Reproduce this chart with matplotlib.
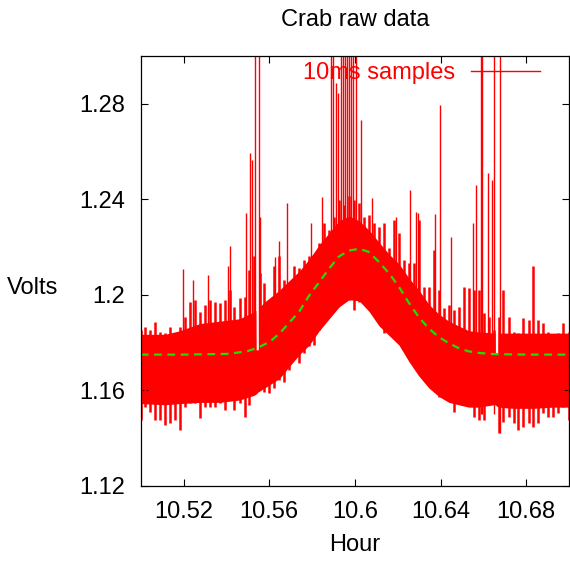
import numpy as np
from matplotlib import pyplot as plt
from matplotlib.lines import Line2D

# solid core of the raw 10 ms samples
core_hour = [10.5000, 10.5113, 10.5183, 10.5276, 10.5369, 10.5462, 10.5531,
             10.5538, 10.5539, 10.5550, 10.5551, 10.5578, 10.5648, 10.5694,
             10.5741, 10.5787, 10.5834, 10.5880, 10.5927, 10.5973, 10.6020,
             10.6067, 10.6113, 10.6160, 10.6206, 10.6253, 10.6299, 10.6346,
             10.6392, 10.6439, 10.6485, 10.6532, 10.6578, 10.6648, 10.6654,
             10.6655, 10.6669, 10.6670, 10.6741, 10.6834, 10.6927, 10.7000]
core_lo = [1.1545, 1.1540, 1.1545, 1.1550, 1.1550, 1.1560, 1.1580,
           1.1585, 1.1585, 1.1595, 1.1595, 1.1610, 1.1650, 1.1700,
           1.1750, 1.1790, 1.1850, 1.1900, 1.1950, 1.1980, 1.1975,
           1.1930, 1.1870, 1.1830, 1.1790, 1.1720, 1.1660, 1.1610,
           1.1575, 1.1550, 1.1540, 1.1530, 1.1530, 1.1540, 1.1540,
           1.1540, 1.1530, 1.1530, 1.1525, 1.1525, 1.1530, 1.1530]
core_hi = [1.1835, 1.1835, 1.1850, 1.1880, 1.1890, 1.1900, 1.1930,
           1.1935, 1.1770, 1.1770, 1.1945, 1.1970, 1.2020, 1.2060,
           1.2100, 1.2150, 1.2210, 1.2260, 1.2310, 1.2330, 1.2310,
           1.2270, 1.2220, 1.2170, 1.2130, 1.2070, 1.2020, 1.1960,
           1.1920, 1.1890, 1.1870, 1.1850, 1.1845, 1.1840, 1.1840,
           1.1757, 1.1757, 1.1840, 1.1840, 1.1840, 1.1840, 1.1840]

# range of the samples in each 5 px column (lowest, highest)
col_hour = [10.5000, 10.5020, 10.5043, 10.5066, 10.5090, 10.5113, 10.5136,
            10.5159, 10.5183, 10.5206, 10.5229, 10.5252, 10.5276, 10.5299,
            10.5322, 10.5345, 10.5369, 10.5392, 10.5415, 10.5438, 10.5462,
            10.5485, 10.5508, 10.5531, 10.5555, 10.5578, 10.5601, 10.5624,
            10.5648, 10.5671, 10.5694, 10.5717, 10.5741, 10.5764, 10.5787,
            10.5810, 10.5834, 10.5857, 10.5880, 10.5903, 10.5927, 10.5950,
            10.5973, 10.5997, 10.6020, 10.6043, 10.6067, 10.6090, 10.6113,
            10.6136, 10.6160, 10.6183, 10.6206, 10.6229, 10.6253, 10.6276,
            10.6299, 10.6322, 10.6346, 10.6369, 10.6392, 10.6415, 10.6439,
            10.6462, 10.6485, 10.6508, 10.6532, 10.6555, 10.6578, 10.6601,
            10.6625, 10.6648, 10.6671, 10.6694, 10.6718, 10.6741, 10.6764,
            10.6787, 10.6811, 10.6834, 10.6857, 10.6880, 10.6904, 10.6927,
            10.6950, 10.6973, 10.7000]
col_lo = [1.1476, 1.1532, 1.1511, 1.1476, 1.1476, 1.1455, 1.1462,
          1.1476, 1.1435, 1.1532, 1.1546, 1.1546, 1.1483, 1.1532,
          1.1532, 1.1532, 1.1546, 1.1518, 1.1574, 1.1518, 1.1546,
          1.1490, 1.1539, 1.1616, 1.1644, 1.1595, 1.1588, 1.1609,
          1.1644, 1.1637, 1.1686, 1.1742, 1.1714, 1.1756, 1.1784,
          1.1791, 1.1853, 1.1881, 1.1937, 1.1965, 1.1979, 1.1986,
          1.1979, 1.1937, 1.1972, 1.1979, 1.1993, 1.1923, 1.1895,
          1.1839, 1.1867, 1.1888, 1.1797, 1.1825, 1.1800, 1.1728,
          1.1797, 1.1658, 1.1700, 1.1630, 1.1574, 1.1602, 1.1560,
          1.1511, 1.1574, 1.1686, 1.1539, 1.1490, 1.1476, 1.1476,
          1.1539, 1.1560, 1.1421, 1.1469, 1.1490, 1.1462, 1.1435,
          1.1449, 1.1462, 1.1449, 1.1462, 1.1504, 1.1490, 1.1490,
          1.1504, 1.1532, 1.1476]
col_hi = [1.1853, 1.1867, 1.1853, 1.1888, 1.1846, 1.1839, 1.1867,
          1.1839, 1.1867, 1.1909, 1.1972, 1.1979, 1.1930, 1.1958,
          1.1979, 1.1972, 1.1965, 1.1979, 1.2021, 1.1951, 1.1986,
          1.1993, 1.2105, 1.2161, 1.2091, 1.2049, 1.1979, 1.2119,
          1.2161, 1.2063, 1.2049, 1.2119, 1.2112, 1.2147, 1.2161,
          1.2119, 1.2216, 1.2300, 1.2272, 1.2328, 1.2398, 1.2377,
          1.2412, 1.2398, 1.2384, 1.2328, 1.2335, 1.2300, 1.2286,
          1.2300, 1.2195, 1.2314, 1.2258, 1.2147, 1.2133, 1.2133,
          1.2314, 1.2035, 1.2035, 1.2189, 1.2021, 1.1944, 1.1958,
          1.1937, 1.1951, 1.2035, 1.2029, 1.2021, 1.2021, 1.1923,
          1.1909, 1.1853, 1.1909, 1.2021, 1.1909, 1.1846, 1.1839,
          1.1902, 1.1895, 1.2119, 1.1895, 1.1881, 1.1846, 1.1825,
          1.1839, 1.1881, 1.1846]

# single samples sticking far out of the band (hour, from, to)
spike_hour = [10.5198, 10.5242, 10.5314, 10.5407, 10.5419, 10.5493,
              10.5512, 10.5521, 10.5532, 10.5553, 10.5558, 10.5629,
              10.5645, 10.5683, 10.5795, 10.5848, 10.5890, 10.5899,
              10.5912, 10.5922, 10.5935, 10.5946, 10.5955, 10.5964,
              10.5973, 10.5983, 10.5992, 10.6007, 10.6028, 10.6079,
              10.6192, 10.6257, 10.6287, 10.6294, 10.6376, 10.6397,
              10.6451, 10.6550, 10.6567, 10.6587, 10.6594, 10.6621,
              10.6640, 10.6649, 10.6676]
spike_lo = [1.170, 1.170, 1.175, 1.175, 1.175, 1.175,
            1.175, 1.175, 1.160, 1.165, 1.175, 1.185,
            1.185, 1.190, 1.200, 1.210, 1.215, 1.215,
            1.215, 1.220, 1.220, 1.220, 1.220, 1.220,
            1.220, 1.220, 1.220, 1.220, 1.220, 1.215,
            1.205, 1.195, 1.195, 1.195, 1.180, 1.180,
            1.175, 1.170, 1.170, 1.150, 1.150, 1.170,
            1.170, 1.150, 1.142]
spike_hi = [1.2107, 1.2063, 1.2084, 1.2119, 1.2203, 1.2342,
            1.2595, 1.2565, 1.3000, 1.3000, 1.2327, 1.2160,
            1.2224, 1.2386, 1.2300, 1.2410, 1.3000, 1.3000,
            1.2888, 1.2846, 1.3000, 1.3000, 1.3000, 1.3000,
            1.3000, 1.3000, 1.3000, 1.3000, 1.2733, 1.2406,
            1.2327, 1.2440, 1.2349, 1.2343, 1.2340, 1.2796,
            1.2243, 1.2300, 1.2461, 1.3000, 1.3000, 1.2511,
            1.2480, 1.3000, 1.3000]

# gaussian fit, read at points along the dashed curve
fit_hour = [10.500, 10.520, 10.540, 10.545, 10.550, 10.555, 10.5605,
            10.565, 10.5695, 10.574, 10.5785, 10.5835, 10.588, 10.5925,
            10.597, 10.602, 10.6065, 10.611, 10.616, 10.6205, 10.625,
            10.630, 10.6345, 10.639, 10.644, 10.6485, 10.653, 10.658,
            10.665, 10.680, 10.700]
fit_volts = [1.1750, 1.1750, 1.1753, 1.1758, 1.1765, 1.1780, 1.1805,
             1.1840, 1.1885, 1.1930, 1.1995, 1.2055, 1.2110, 1.2160,
             1.2185, 1.2193, 1.2180, 1.2140, 1.2090, 1.2035, 1.1970,
             1.1905, 1.1860, 1.1825, 1.1797, 1.1777, 1.1764, 1.1757,
             1.1752, 1.1750, 1.1750]

xticks = [10.52, 10.56, 10.60, 10.64, 10.68]
xlabels = ['10.52', '10.56', '10.6', '10.64', '10.68']
yticks = [1.12, 1.16, 1.20, 1.24, 1.28]
ylabels = ['1.12', '1.16', '1.2', '1.24', '1.28']


def main():
    plt.rcParams['font.family'] = ['Liberation Sans', 'DejaVu Sans']
    fs = 17
    red = '#ff0000'

    fig = plt.figure(figsize=(5.7, 5.64), dpi=100)
    ax = fig.add_axes([140.7 / 570, 1 - 486 / 564, 428.3 / 570, 430 / 564])

    ax.fill_between(core_hour, core_lo, core_hi, color=red, lw=0)
    ax.vlines(col_hour, col_lo, col_hi, color=red, lw=1.8)
    ax.vlines(spike_hour, spike_lo, spike_hi, color=red, lw=1)
    ax.plot(fit_hour, fit_volts, color='#22dd00', lw=1.6,
            dashes=(3.5, 2.5))

    ax.set_xlim(10.50, 10.70)
    ax.set_ylim(1.12, 1.30)
    ax.set_xticks(xticks)
    ax.set_xticklabels(xlabels)
    ax.set_yticks(yticks)
    ax.set_yticklabels(ylabels)
    ax.tick_params(direction='in', top=True, right=True, length=4.7,
                   width=0.8, labelsize=fs, pad=11)
    for s in ax.spines.values():
        s.set_linewidth(0.9)

    ax.set_xlabel('Hour', fontsize=fs, labelpad=8)
    fig.text(33 / 570, 1 - 288 / 564, 'Volts', fontsize=fs,
             ha='center', va='center')
    fig.text(355 / 570, 1 - 20 / 564, 'Crab raw data', fontsize=fs,
             ha='center', va='center')

    handle = Line2D([], [], color=red, lw=1)
    ax.legend([handle], ['10ms samples'], loc='upper right',
              bbox_to_anchor=(0.932, 0.985), frameon=False,
              markerfirst=False, labelcolor=red, fontsize=fs,
              handlelength=2.9, handletextpad=0.7, borderpad=0,
              borderaxespad=0)

    fig.savefig('out.png', dpi=100)


if __name__ == '__main__':
    main()
